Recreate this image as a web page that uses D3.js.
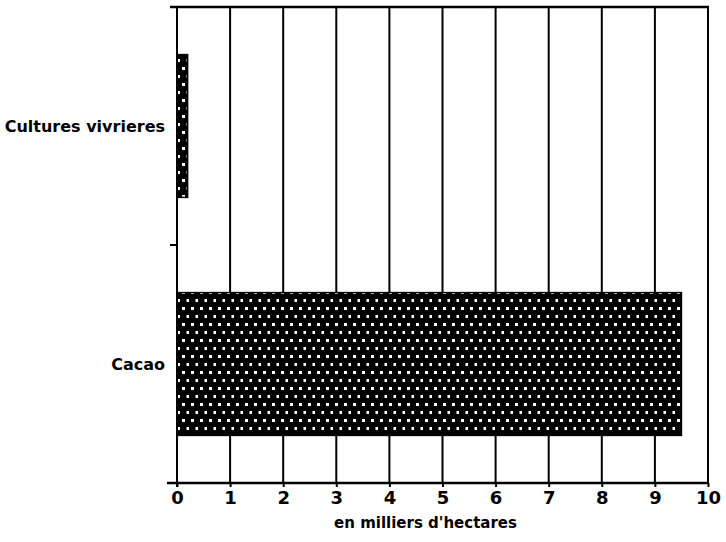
<!DOCTYPE html>
<html>
<head>
<meta charset="utf-8">
<script src="https://cdn.jsdelivr.net/npm/d3@7"></script>
<style>
  body { margin: 0; background: #fff; }
  text { font-family: "DejaVu Sans", sans-serif; fill: #000; }
</style>
</head>
<body>
<div id="chart"></div>
<script>
const categories = ["Cultures vivrieres", "Cacao"];
const values = [0.2, 9.5];
const xTicks = [0, 1, 2, 3, 4, 5, 6, 7, 8, 9, 10];
const xTitle = "en milliers d'hectares";

const width = 726, height = 542;
const margin = ({top: 7, right: 18, bottom: 60, left: 177});

const svg = d3.select("#chart").append("svg")
    .attr("width", width)
    .attr("height", height);

// dotted black fill
const pat = svg.append("defs").append("pattern")
    .attr("id", "dots")
    .attr("patternUnits", "userSpaceOnUse")
    .attr("width", 9).attr("height", 16);
pat.append("rect").attr("width", 9).attr("height", 16).attr("fill", "#000");
pat.append("rect").attr("x", 2).attr("y", 3).attr("width", 3).attr("height", 3).attr("fill", "#fff");
pat.append("rect").attr("x", 6.5).attr("y", 11).attr("width", 3).attr("height", 3).attr("fill", "#fff");

const x = d3.scaleLinear()
    .domain([0, 10])
    .range([margin.left, width - margin.right]);

const y = d3.scaleBand()
    .domain(categories)
    .range([margin.top, height - margin.bottom + 1])
    .paddingInner(0.4)
    .paddingOuter(0.2);

const yBottom = height - margin.bottom + 1;

// vertical grid
svg.append("g")
  .selectAll("line")
  .data(xTicks)
  .enter().append("line")
    .attr("x1", d => x(d)).attr("x2", d => x(d))
    .attr("y1", margin.top).attr("y2", yBottom)
    .attr("stroke", "#000")
    .attr("stroke-width", 2);

// top frame line
svg.append("line")
    .attr("x1", margin.left - 7).attr("x2", x(10) + 1)
    .attr("y1", margin.top).attr("y2", margin.top)
    .attr("stroke", "#000").attr("stroke-width", 2.5);

// bars
svg.append("g")
  .selectAll("rect")
  .data(categories)
  .enter().append("rect")
    .attr("x", x(0))
    .attr("y", d => y(d))
    .attr("width", (d, i) => x(values[i]) - x(0))
    .attr("height", y.bandwidth())
    .attr("fill", "url(#dots)")
    .attr("stroke", "#000")
    .attr("stroke-width", 1.5);

// x axis
const xAxis = d3.axisBottom(x)
    .tickValues(xTicks)
    .tickSize(4)
    .tickFormat(d3.format("d"));
const gx = svg.append("g")
    .attr("transform", `translate(0, ${yBottom})`)
    .call(xAxis);
gx.select(".domain").remove();
gx.selectAll(".tick line").attr("stroke", "#000").attr("stroke-width", 2);
gx.selectAll(".tick text")
    .attr("dy", "0.8em")
    .style("font-size", "18px")
    .style("font-weight", "bold");
gx.append("line")
    .attr("x1", margin.left - 10).attr("x2", x(10) + 1)
    .attr("stroke", "#000").attr("stroke-width", 2.5);

// y axis
svg.append("line")
    .attr("x1", x(0)).attr("x2", x(0))
    .attr("y1", margin.top).attr("y2", yBottom + 4)
    .attr("stroke", "#000").attr("stroke-width", 2);
const midY = (y(categories[0]) + y.bandwidth() + y(categories[1])) / 2;
svg.append("line")
    .attr("x1", x(0) - 7).attr("x2", x(0))
    .attr("y1", midY).attr("y2", midY)
    .attr("stroke", "#000").attr("stroke-width", 2);

svg.append("g")
  .selectAll("text")
  .data(categories)
  .enter().append("text")
    .attr("x", margin.left - 12)
    .attr("y", d => y(d) + y.bandwidth() / 2)
    .attr("dy", "0.35em")
    .attr("text-anchor", "end")
    .style("font-size", "16px")
    .style("font-weight", "bold")
    .text(d => d);

svg.append("text")
    .attr("x", (x(0) + x(10)) / 2 - 17)
    .attr("y", height - 14)
    .attr("text-anchor", "middle")
    .style("font-size", "15px")
    .style("font-weight", "bold")
    .text(xTitle);
</script>
</body>
</html>
